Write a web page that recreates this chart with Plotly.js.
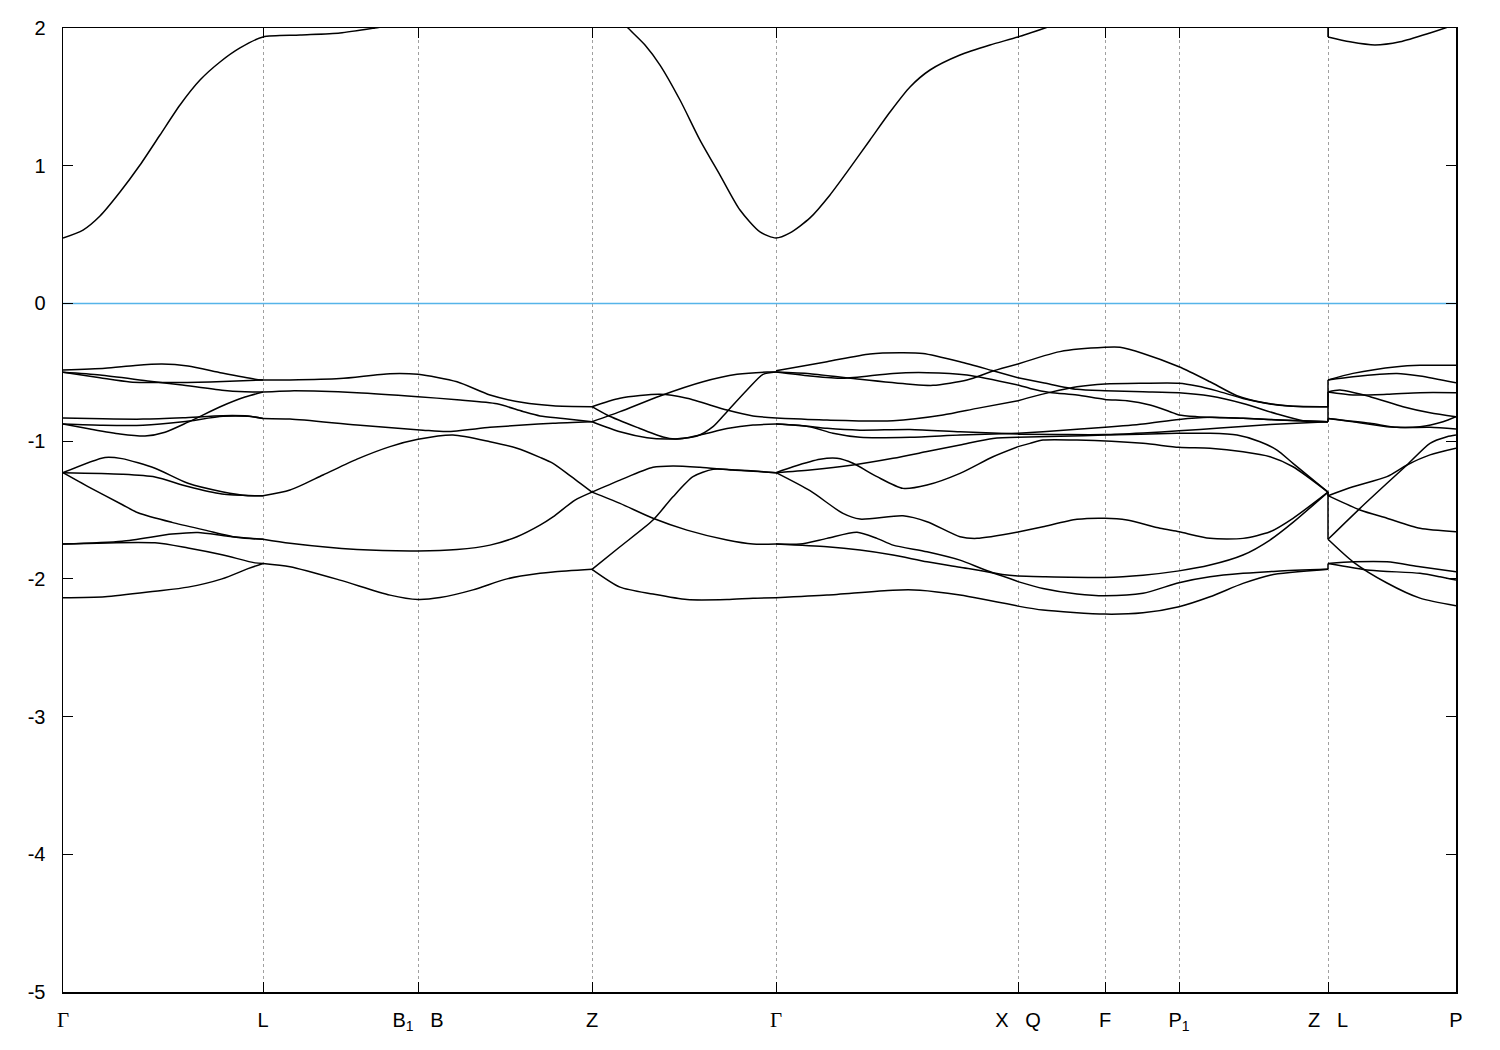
<!DOCTYPE html>
<html>
<head>
<meta charset="utf-8">
<script src="https://cdn.plot.ly/plotly-3.0.1.min.js"></script>
<style>html,body{margin:0;padding:0;background:#fff;}#chart{width:1500px;height:1050px;}</style>
</head>
<body>
<div id="chart"></div>
<script>
// ---- high-symmetry path (path coordinate, arbitrary units) ----
const kSym = [0, 200, 355, 529, 713, 955, 1042, 1116, 1265, 1393];
const kLabels = ['Γ', 'L', 'B1   B', 'Z', 'Γ', 'X   Q', 'F', 'P1', 'Z   L', 'P'];
const energyTicks = [-5, -4, -3, -2, -1, 0, 1, 2];
const fermiLevel = 0;

// ---- conduction band [k, E(eV)] ----
const CB_1 = [[0,0.475],[20,0.533],[37,0.635],[57,0.809],[77,1.005],[97,1.223],[117,1.441],[137,1.622],[157,1.753],[177,1.855],[200,1.935],[237,1.949],[277,1.964],[312,2.0],[337,2.03]];
const CB_2 = [[552,2.1],[565,2.0],[582,1.877],[597,1.731],[617,1.477],[637,1.186],[657,0.932],[677,0.678],[697,0.519],[713,0.475],[727,0.512],[747,0.621],[767,0.788],[787,0.984],[807,1.187],[827,1.39],[847,1.572],[867,1.695],[897,1.804],[927,1.877],[955,1.935],[982,2.0],[1002,2.05]];
const CB_3 = [[1265,1.935],[1287,1.9],[1312,1.877],[1337,1.9],[1367,1.964],[1382,2.0],[1400,2.05]];

// ---- valence bands: Gamma - L ----
const GL_1 = [[0,-0.484],[42,-0.47],[72,-0.45],[99,-0.44],[125,-0.455],[159,-0.506],[192,-0.55],[200,-0.556]];
const GL_2 = [[0,-0.50],[37,-0.54],[67,-0.57],[107,-0.575],[147,-0.57],[200,-0.556]];
const GL_3 = [[0,-0.50],[37,-0.52],[87,-0.565],[117,-0.59],[159,-0.63],[182,-0.641],[200,-0.643]];
const GL_4 = [[0,-0.832],[40,-0.838],[80,-0.84],[120,-0.83],[160,-0.815],[185,-0.818],[200,-0.835]];
const GL_5 = [[0,-0.876],[40,-0.885],[80,-0.885],[120,-0.86],[160,-0.82],[185,-0.82],[200,-0.835]];
const GL_6 = [[0,-0.876],[27,-0.912],[57,-0.948],[82,-0.963],[102,-0.935],[125,-0.862],[159,-0.745],[182,-0.68],[200,-0.643]];
const GL_7 = [[0,-1.229],[42,-1.118],[59,-1.127],[92,-1.197],[125,-1.306],[159,-1.367],[185,-1.396],[200,-1.396]];
const GL_8 = [[0,-1.229],[59,-1.24],[92,-1.26],[125,-1.33],[159,-1.384],[192,-1.396],[200,-1.396]];
const GL_9 = [[0,-1.229],[25,-1.33],[59,-1.46],[75,-1.52],[109,-1.59],[142,-1.646],[175,-1.70],[200,-1.713]];
const GL_10 = [[0,-1.747],[59,-1.727],[109,-1.675],[135,-1.663],[165,-1.69],[200,-1.713]];
const GL_11 = [[0,-1.747],[92,-1.738],[125,-1.776],[159,-1.825],[192,-1.884],[200,-1.888]];
const GL_12 = [[0,-2.137],[42,-2.13],[92,-2.09],[125,-2.06],[159,-2.0],[185,-1.926],[200,-1.888]];

// ---- L - B - Z (pairwise degenerate) ----
const LZ_1 = [[200,-0.556],[227,-0.556],[277,-0.546],[327,-0.51],[355,-0.515],[394,-0.569],[427,-0.665],[460,-0.72],[490,-0.743],[529,-0.75]];
const LZ_2 = [[200,-0.643],[227,-0.635],[294,-0.648],[355,-0.677],[394,-0.70],[434,-0.729],[460,-0.785],[477,-0.817],[500,-0.835],[529,-0.859]];
const LZ_3 = [[200,-0.835],[227,-0.84],[294,-0.883],[360,-0.92],[384,-0.93],[427,-0.9],[460,-0.883],[490,-0.87],[529,-0.859]];
const LZ_4 = [[200,-1.396],[227,-1.355],[260,-1.246],[294,-1.131],[327,-1.04],[355,-0.987],[390,-0.955],[427,-1.004],[454,-1.052],[477,-1.118],[490,-1.161],[507,-1.25],[529,-1.37]];
const LZ_5 = [[200,-1.713],[227,-1.742],[294,-1.787],[355,-1.797],[394,-1.787],[427,-1.755],[454,-1.694],[477,-1.61],[490,-1.55],[512,-1.428],[529,-1.37]];
const LZ_6 = [[200,-1.888],[227,-1.912],[277,-2.009],[327,-2.118],[355,-2.15],[377,-2.136],[410,-2.08],[444,-2.0],[477,-1.96],[490,-1.95],[529,-1.931]];

// ---- Z - Gamma ----
const ZG_1 = [[529,-0.75],[557,-0.689],[597,-0.66],[624,-0.689],[664,-0.774],[690,-0.817],[713,-0.832]];
const ZG_2 = [[529,-0.859],[557,-0.786],[597,-0.672],[640,-0.569],[674,-0.515],[704,-0.498],[713,-0.498]];
const ZG_3 = [[529,-0.75],[544,-0.81],[574,-0.90],[600,-0.97],[612,-0.984],[634,-0.963],[650,-0.895],[664,-0.786],[684,-0.629],[700,-0.515],[713,-0.498]];
const ZG_4 = [[529,-0.859],[557,-0.932],[584,-0.975],[604,-0.985],[620,-0.98],[640,-0.95],[664,-0.909],[690,-0.883],[713,-0.876]];
const ZG_5 = [[529,-1.37],[557,-1.283],[590,-1.19],[610,-1.18],[637,-1.19],[670,-1.21],[713,-1.229]];
const ZG_6 = [[529,-1.37],[557,-1.452],[590,-1.56],[624,-1.646],[664,-1.718],[690,-1.747],[713,-1.747]];
const ZG_7 = [[529,-1.931],[557,-1.767],[590,-1.573],[610,-1.404],[630,-1.258],[650,-1.205],[674,-1.21],[713,-1.229]];
const ZG_8 = [[529,-1.931],[557,-2.06],[590,-2.11],[624,-2.15],[664,-2.15],[690,-2.14],[713,-2.137]];

// ---- Gamma - X ----
const GX_1 = [[713,-0.489],[764,-0.423],[807,-0.367],[837,-0.358],[860,-0.363],[897,-0.423],[930,-0.489],[955,-0.54]];
const GX_2 = [[713,-0.498],[747,-0.527],[780,-0.544],[830,-0.508],[864,-0.503],[904,-0.52],[955,-0.593]];
const GX_3 = [[713,-0.498],[747,-0.51],[797,-0.551],[847,-0.587],[870,-0.595],[904,-0.556],[930,-0.491],[955,-0.44]];
const GX_4 = [[713,-0.832],[764,-0.847],[830,-0.852],[880,-0.81],[914,-0.762],[955,-0.707]];
const GX_5 = [[713,-0.876],[740,-0.888],[764,-0.907],[797,-0.92],[847,-0.915],[897,-0.932],[955,-0.949]];
const GX_6 = [[713,-0.876],[747,-0.896],[770,-0.943],[797,-0.972],[847,-0.972],[897,-0.956],[955,-0.943]];
const GX_7 = [[713,-1.229],[747,-1.21],[790,-1.174],[830,-1.125],[864,-1.076],[897,-1.028],[930,-0.98],[955,-0.972]];
const GX_8 = [[713,-1.229],[730,-1.186],[757,-1.132],[774,-1.125],[790,-1.161],[814,-1.258],[840,-1.343],[864,-1.319],[897,-1.234],[930,-1.113],[955,-1.04]];
const GX_9 = [[713,-1.229],[747,-1.36],[780,-1.525],[797,-1.566],[840,-1.542],[864,-1.585],[897,-1.694],[914,-1.706],[955,-1.66]];
const GX_10 = [[713,-1.747],[737,-1.747],[764,-1.706],[794,-1.662],[814,-1.706],[830,-1.755],[864,-1.803],[897,-1.864],[930,-1.955],[955,-1.98]];
const GX_11 = [[713,-1.747],[764,-1.767],[797,-1.791],[830,-1.827],[864,-1.876],[897,-1.916],[930,-1.958],[955,-2.02]];
const GX_12 = [[713,-2.137],[764,-2.118],[830,-2.082],[857,-2.082],[897,-2.118],[955,-2.198]];

// ---- X - F - P1 - Z ----
const XZ_1 = [[955,-0.44],[997,-0.35],[1042,-0.319],[1057,-0.319],[1080,-0.363],[1116,-0.46],[1147,-0.569],[1174,-0.67],[1200,-0.72],[1227,-0.745],[1265,-0.75]];
const XZ_2 = [[955,-0.54],[980,-0.576],[1014,-0.624],[1042,-0.634],[1080,-0.641],[1116,-0.648],[1147,-0.672],[1180,-0.726],[1214,-0.803],[1240,-0.852],[1265,-0.859]];
const XZ_3 = [[955,-0.593],[967,-0.617],[987,-0.646],[1014,-0.665],[1042,-0.697],[1064,-0.707],[1087,-0.738],[1107,-0.786],[1116,-0.81],[1134,-0.822],[1180,-0.834],[1214,-0.846],[1265,-0.859]];
const XZ_4 = [[955,-0.707],[967,-0.682],[987,-0.646],[1014,-0.605],[1042,-0.585],[1080,-0.58],[1116,-0.58],[1134,-0.6],[1154,-0.635],[1180,-0.69],[1207,-0.73],[1240,-0.75],[1265,-0.75]];
const XZ_5 = [[955,-0.943],[980,-0.932],[1014,-0.914],[1042,-0.9],[1080,-0.876],[1116,-0.842],[1147,-0.827],[1180,-0.834],[1230,-0.85],[1265,-0.859]];
const XZ_6 = [[955,-0.95],[997,-0.952],[1042,-0.952],[1080,-0.94],[1116,-0.925],[1157,-0.905],[1207,-0.88],[1265,-0.859]];
const XZ_7 = [[955,-0.972],[997,-0.965],[1042,-0.956],[1114,-0.943],[1147,-0.943],[1174,-0.956],[1197,-1.004],[1214,-1.065],[1230,-1.161],[1265,-1.37]];
const XZ_8 = [[955,-1.04],[967,-1.016],[980,-0.992],[1014,-0.992],[1080,-1.016],[1116,-1.045],[1147,-1.052],[1180,-1.077],[1207,-1.113],[1230,-1.186],[1265,-1.37]];
const XZ_9 = [[955,-1.66],[980,-1.621],[1014,-1.568],[1042,-1.56],[1064,-1.573],[1097,-1.633],[1116,-1.658],[1147,-1.706],[1180,-1.706],[1207,-1.658],[1230,-1.56],[1265,-1.37]];
const XZ_10 = [[955,-1.98],[980,-1.985],[1042,-1.99],[1080,-1.973],[1116,-1.942],[1147,-1.9],[1180,-1.827],[1207,-1.718],[1230,-1.59],[1265,-1.37]];
const XZ_11 = [[955,-2.02],[980,-2.07],[1014,-2.11],[1042,-2.123],[1080,-2.105],[1116,-2.028],[1147,-1.985],[1180,-1.96],[1214,-1.944],[1265,-1.931]];
const XZ_12 = [[955,-2.198],[980,-2.227],[1042,-2.256],[1080,-2.246],[1116,-2.202],[1147,-2.13],[1180,-2.033],[1207,-1.973],[1265,-1.931]];

// ---- jumps at the Z|L path break [E at Z, E at L] ----
const ZL_jumps = [[2.3, 1.935], [-0.75, -0.556], [-0.859, -0.643], [-0.859, -0.835], [-1.37, -1.396], [-1.37, -1.713], [-1.931, -1.888]];

// ---- L - P ----
const LP_1 = [[1265,-0.556],[1290,-0.508],[1334,-0.459],[1357,-0.449],[1393,-0.449]];
const LP_2 = [[1265,-0.556],[1290,-0.532],[1334,-0.508],[1357,-0.527],[1393,-0.576]];
const LP_3 = [[1265,-0.643],[1277,-0.629],[1307,-0.677],[1340,-0.75],[1367,-0.794],[1393,-0.823]];
const LP_4 = [[1265,-0.643],[1290,-0.665],[1324,-0.66],[1357,-0.648],[1393,-0.648]];
const LP_5 = [[1265,-0.835],[1290,-0.859],[1324,-0.895],[1357,-0.895],[1380,-0.859],[1393,-0.823]];
const LP_6 = [[1265,-0.835],[1307,-0.87],[1334,-0.9],[1367,-0.9],[1393,-0.912]];
const LP_7 = [[1265,-1.396],[1290,-1.331],[1324,-1.258],[1344,-1.173],[1367,-1.1],[1393,-1.052]];
const LP_8 = [[1265,-1.396],[1297,-1.5],[1324,-1.56],[1357,-1.633],[1393,-1.658]];
const LP_9 = [[1265,-1.713],[1297,-1.488],[1324,-1.306],[1344,-1.173],[1367,-1.016],[1384,-0.968],[1393,-0.956]];
const LP_10 = [[1265,-1.713],[1290,-1.876],[1324,-2.03],[1357,-2.14],[1393,-2.195]];
const LP_11 = [[1265,-1.888],[1290,-1.876],[1324,-1.876],[1357,-1.912],[1393,-1.949]];
const LP_12 = [[1265,-1.888],[1307,-1.937],[1357,-1.96],[1377,-1.985],[1393,-2.009]];

const allCurves = [CB_1, CB_2, CB_3,
  GL_1, GL_2, GL_3, GL_4, GL_5, GL_6, GL_7, GL_8, GL_9, GL_10, GL_11, GL_12,
  LZ_1, LZ_2, LZ_3, LZ_4, LZ_5, LZ_6,
  ZG_1, ZG_2, ZG_3, ZG_4, ZG_5, ZG_6, ZG_7, ZG_8,
  GX_1, GX_2, GX_3, GX_4, GX_5, GX_6, GX_7, GX_8, GX_9, GX_10, GX_11, GX_12,
  XZ_1, XZ_2, XZ_3, XZ_4, XZ_5, XZ_6, XZ_7, XZ_8, XZ_9, XZ_10, XZ_11, XZ_12,
  LP_1, LP_2, LP_3, LP_4, LP_5, LP_6, LP_7, LP_8, LP_9, LP_10, LP_11, LP_12];

const traces = [];
// Fermi level
traces.push({
  x: [kSym[0], kSym[kSym.length - 1]], y: [fermiLevel, fermiLevel],
  type: 'scatter', mode: 'lines', hoverinfo: 'skip', showlegend: false,
  line: {color: '#56b4e9', width: 1.5}
});
allCurves.forEach(c => {
  traces.push({
    x: c.map(p => p[0]), y: c.map(p => p[1]),
    type: 'scatter', mode: 'lines', hoverinfo: 'skip', showlegend: false,
    line: {color: '#000', width: 1.5, shape: 'spline', smoothing: 0.7}
  });
});
const kBreak = kSym[8];
ZL_jumps.forEach(j => {
  traces.push({
    x: [kBreak, kBreak], y: j, type: 'scatter', mode: 'lines', hoverinfo: 'skip', showlegend: false,
    line: {color: '#000', width: 1.5}
  });
});

const serif = s => '<span style="font-family:\'Liberation Serif\',\'DejaVu Serif\',serif;font-size:21px;">' + s + '</span>';
const tickText = kLabels.map(l => {
  if (l === 'Γ') return serif('Γ');
  return l.replace(/ /g, '\u00a0').replace(/([A-Z])1/g, '$1<sub>1</sub>');
});

const layout = {
  width: 1500, height: 1050, autosize: false,
  margin: {l: 63, r: 44, t: 28, b: 58, pad: 0},
  paper_bgcolor: '#fff', plot_bgcolor: '#fff',
  font: {family: "'Liberation Sans', Arial, sans-serif", size: 20, color: '#000'},
  showlegend: false,
  xaxis: {
    range: [kSym[0], kSym[kSym.length - 1]],
    tickmode: 'array', tickvals: kSym, ticktext: tickText,
    ticks: 'inside', ticklen: 10, tickwidth: 1, tickcolor: '#000',
    showline: true, linecolor: '#000', linewidth: 1.5, mirror: 'ticks',
    showgrid: true, gridcolor: '#a0a0a0', gridwidth: 1, griddash: 'dot',
    zeroline: false, ticklabelstandoff: 9
  },
  yaxis: {
    range: [-5, 2],
    tickmode: 'array', tickvals: energyTicks, ticktext: energyTicks.map(v => String(v)),
    ticks: 'inside', ticklen: 10, tickwidth: 1, tickcolor: '#000',
    showline: true, linecolor: '#000', linewidth: 1.5, mirror: 'ticks',
    showgrid: false, zeroline: false,
    ticklabelstandoff: 12
  }
};

Plotly.newPlot('chart', traces, layout, {staticPlot: true, displayModeBar: false});
</script>
</body>
</html>
